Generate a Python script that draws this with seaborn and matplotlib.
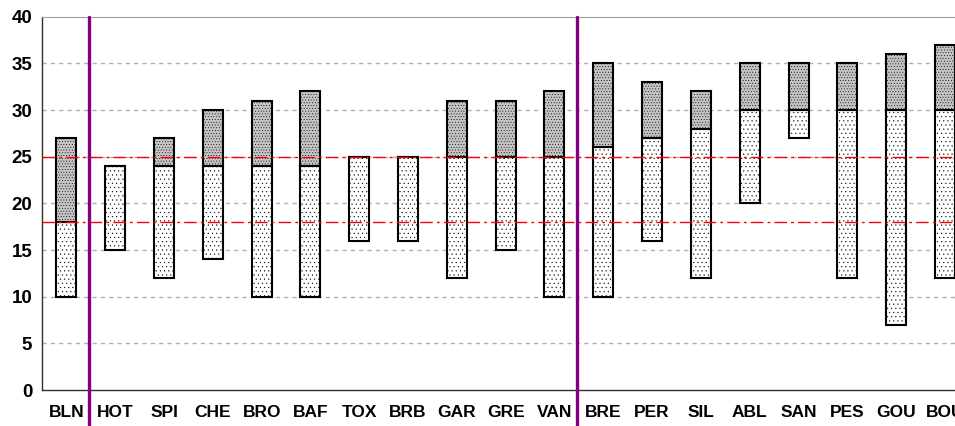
import matplotlib
matplotlib.use("Agg")
import matplotlib.pyplot as plt
import seaborn as sns
import pandas as pd

# site codes and ranges (bottom of bar, split point, top of bar)
cats = ["BLN", "HOT", "SPI", "CHE", "BRO", "BAF", "TOX", "BRB", "GAR", "GRE",
        "VAN", "BRE", "PER", "SIL", "ABL", "SAN", "PES", "GOU", "BOU"]
low = [10, 15, 12, 14, 10, 10, 16, 16, 12, 15, 10, 10, 16, 12, 20, 27, 12, 7, 12]
mid = [18, 24, 24, 24, 24, 24, 25, 25, 25, 25, 25, 26, 27, 28, 30, 30, 30, 30, 30]
top = [27, 24, 27, 30, 31, 32, 25, 25, 31, 31, 32, 35, 33, 32, 35, 35, 35, 36, 37]
ref_lines = [18, 25]
group_breaks = [0.46, 10.46]

df = pd.DataFrame({"cat": cats, "low": low, "mid": mid, "top": top})
df["h1"] = df["mid"] - df["low"]
df["h2"] = df["top"] - df["mid"]

sns.set_style("white")
plt.rcParams["font.family"] = ["Liberation Sans", "DejaVu Sans"]
plt.rcParams["hatch.linewidth"] = 0.3

fig = plt.figure(figsize=(9.55, 4.26), dpi=100)
ax = fig.add_axes([0.044, 0.0845, 0.971, 0.876])

# lower part
sns.barplot(data=df, x="cat", y="h1", bottom=df["low"], color="white",
            width=0.41, edgecolor="black", linewidth=1.5, hatch="....",
            saturation=1, ax=ax, zorder=3)
# upper part
sns.barplot(data=df, x="cat", y="h2", bottom=df["mid"], color="#c4c4c4",
            width=0.41, edgecolor="black", linewidth=1.5, hatch="......",
            saturation=1, ax=ax, zorder=3)

ax.set_ylim(0, 40)
ax.set_xlim(-0.5, len(cats) - 0.5)
ax.set_yticks(range(0, 41, 5))
for y in range(5, 40, 5):
    ax.axhline(y, color="#b0b0b0", lw=1, ls=(0, (3, 3)), zorder=1)
for y in ref_lines:
    ax.axhline(y, color="red", lw=1, ls=(0, (9, 3, 2, 3)), zorder=4)
for x in group_breaks:
    ax.axvline(x, ymin=-0.1, ymax=1, color="#800080", lw=2.4, clip_on=False, zorder=5)

ax.set_xlabel("")
ax.set_ylabel("")
ax.set_xticks(range(len(cats)))
ax.set_xticklabels(cats, fontsize=12.5, fontweight="bold", color="black")
ax.set_xticks([i - 0.5 for i in range(len(cats) + 1)], minor=True)
ax.tick_params(axis="x", which="major", length=0, pad=11)
ax.tick_params(axis="x", which="minor", length=5, width=1, color="#404040", direction="out")
ax.tick_params(axis="y", length=5, width=1, color="#404040", direction="out",
               labelsize=13.5, labelcolor="black", pad=2)
for lab in ax.get_yticklabels():
    lab.set_fontweight("bold")

for s in ["left", "bottom"]:
    ax.spines[s].set_color("#303030")
    ax.spines[s].set_linewidth(1)
ax.spines["top"].set_color("#a0a0a0")
ax.spines["right"].set_visible(False)

fig.savefig("out.png", dpi=100)
